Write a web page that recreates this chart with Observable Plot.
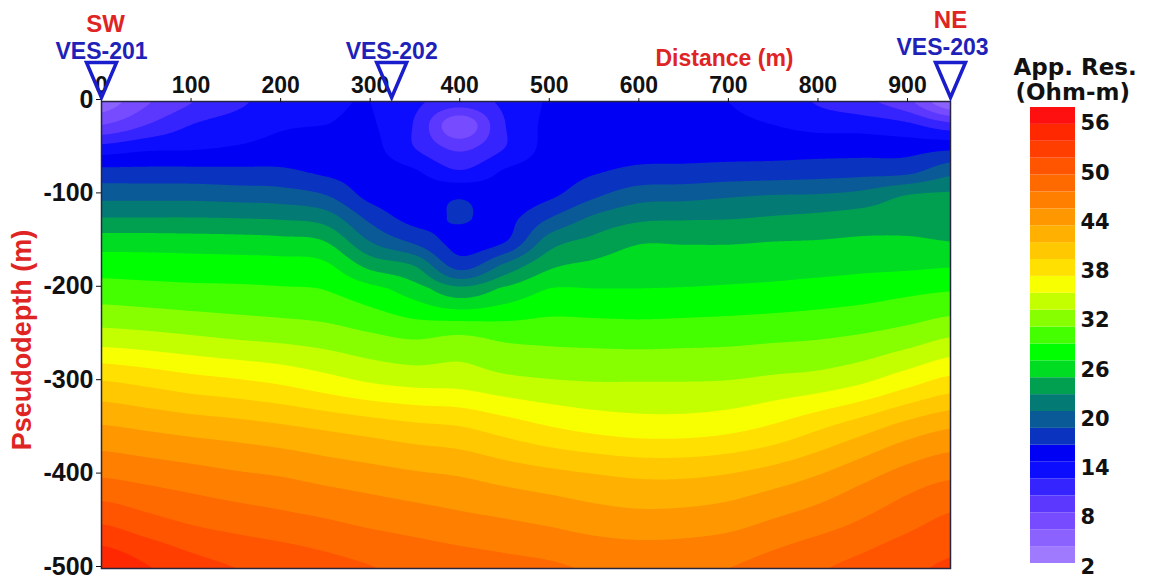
<!DOCTYPE html>
<html>
<head>
<meta charset="utf-8">
<script src="https://cdn.jsdelivr.net/npm/d3@7"></script>
<script src="https://cdn.jsdelivr.net/npm/@observablehq/plot@0.6"></script>
<style>
  html, body { margin: 0; padding: 0; background: #fff; }
  #wrap { position: relative; width: 1155px; height: 579px; overflow: hidden; }
  #main { position: absolute; left: 0; top: 0; }
  #legend { position: absolute; left: 1000px; top: 0; }
  #wrap svg { overflow: visible; }
  #wrap svg text { font-weight: 700; }
</style>
</head>
<body>
<div id="wrap"><div id="main"></div><div id="legend"></div></div>
<script>
// ---- grid nodes ----
const distances = [0, 50, 100, 150, 200, 250, 300, 350, 400, 450, 500, 550, 600, 650, 700, 750, 800, 850, 900, 950];
const depths = [0, 25, 50, 75, 100, 125, 150, 175, 200, 250, 300, 350, 400, 450, 500];

// ---- apparent resistivity (Ohm-m) profiles, one per distance, top -> bottom ----
const res000 = [4.8, 8.0, 12.8, 16.6, 19.3, 22.1, 25.0, 27.1, 28.9, 32.7, 38.1, 42.3, 45.8, 49.8, 53.6];
const res050 = [7.7, 10.0, 13.6, 16.6, 19.3, 22.1, 25.0, 27.0, 28.7, 32.4, 37.5, 41.8, 45.3, 48.7, 52.2];
const res100 = [9.9, 12.0, 13.8, 16.6, 19.3, 22.1, 24.9, 26.9, 28.5, 32.0, 36.8, 41.3, 44.8, 47.8, 50.8];
const res150 = [11.5, 13.0, 14.2, 16.5, 19.1, 22.0, 24.8, 26.8, 28.4, 31.6, 36.3, 40.9, 44.3, 47.2, 50.0];
const res200 = [13.0, 13.8, 14.6, 16.4, 18.9, 21.8, 24.6, 26.7, 28.2, 31.3, 35.7, 40.4, 43.9, 46.7, 49.4];
const res250 = [13.6, 14.0, 14.6, 15.6, 18.0, 21.1, 24.0, 26.3, 27.9, 30.9, 34.8, 39.8, 43.3, 46.2, 48.7];
const res300 = [14.0, 14.2, 14.6, 15.0, 15.4, 17.5, 20.0, 23.3, 26.6, 30.2, 33.9, 39.2, 42.8, 45.6, 48.1];
const res350 = [12.4, 11.8, 12.0, 14.2, 15.0, 15.4, 17.6, 21.8, 24.9, 29.6, 33.4, 38.6, 42.3, 45.1, 47.5];
const res400 = [11.0, 6.5, 9.6, 12.2, 15.7, 16.2, 15.3, 17.1, 22.5, 30.0, 33.3, 38.2, 41.9, 44.6, 47.0];
const res450 = [12.4, 11.9, 12.0, 14.2, 14.8, 15.4, 15.9, 20.3, 24.3, 29.4, 32.6, 37.2, 41.2, 44.2, 46.6];
const res500 = [14.2, 14.4, 14.6, 15.0, 15.6, 18.0, 21.0, 23.5, 26.0, 29.3, 32.2, 36.2, 40.6, 43.7, 46.3];
const res550 = [14.4, 14.6, 15.0, 15.8, 17.6, 20.4, 22.6, 24.4, 26.0, 29.2, 32.0, 35.5, 40.1, 43.1, 45.8];
const res600 = [14.4, 14.6, 15.2, 16.5, 19.1, 21.6, 23.8, 25.0, 26.0, 29.1, 32.0, 35.1, 39.7, 42.8, 45.5];
const res650 = [14.2, 14.6, 15.2, 16.6, 19.3, 21.8, 23.8, 25.0, 26.1, 29.2, 32.0, 35.1, 39.7, 42.9, 45.6];
const res700 = [14.0, 14.4, 15.2, 16.8, 19.7, 21.9, 23.8, 25.1, 26.3, 29.3, 32.1, 35.5, 40.1, 43.3, 46.0];
const res750 = [13.2, 14.0, 15.2, 16.9, 20.0, 22.2, 24.0, 25.2, 26.5, 29.5, 32.5, 36.4, 40.9, 44.2, 46.8];
const res800 = [11.8, 13.4, 15.2, 17.1, 20.1, 22.5, 24.1, 25.3, 26.8, 29.7, 32.9, 37.8, 42.0, 45.1, 47.8];
const res850 = [10.5, 13.2, 15.2, 17.3, 20.6, 22.9, 24.3, 25.5, 27.1, 30.1, 33.8, 39.3, 43.4, 46.2, 48.6];
const res900 = [8.5, 12.4, 15.2, 17.5, 22.0, 23.1, 24.3, 25.6, 27.5, 30.8, 35.3, 40.9, 44.8, 47.4, 49.6];
const res950 = [4.0, 10.6, 15.6, 19.4, 22.3, 23.1, 24.0, 25.8, 27.8, 31.8, 36.7, 42.0, 45.7, 48.5, 50.3];

// ---- stations and labels ----
const stationNames = ["VES-201", "VES-202", "VES-203"];
const stationDist = [0, 324, 948];
const directionNames = ["SW", "NE"];
const directionDist = [0, 948];
const xTicks = [0, 100, 200, 300, 400, 500, 600, 700, 800, 900];
const yTicks = [0, -100, -200, -300, -400, -500];
const xLabel = "Distance (m)";
const yLabel = "Pseudodepth (m)";
const legendTitle = ["App. Res.", "(Ohm-m)"];

// ---- colour bands ----
const bandStart = [2, 4, 6, 8, 10, 12, 14, 16, 18, 20, 22, 24, 26, 28, 30, 32, 34, 36, 38, 40, 42, 44, 46, 48, 50, 52, 54];
const bandColors = ["#9f7aff", "#8c62ff", "#774bff", "#5c38ff", "#3624ff", "#0c0cff", "#0000f4", "#0a34c0", "#0a5a98",
  "#047a74", "#00a050", "#00dc22", "#00ff00", "#44ff00", "#88ff00", "#c4ff00", "#f8ff00", "#ffe000", "#ffc800",
  "#ffb000", "#ff9800", "#ff8000", "#ff6a00", "#ff5400", "#ff3e00", "#ff2800", "#ff1010"];
const legendTicks = [2, 8, 14, 20, 26, 32, 38, 44, 50, 56];

// ---- build ----
const grid = [res000, res050, res100, res150, res200, res250, res300, res350, res400, res450,
  res500, res550, res600, res650, res700, res750, res800, res850, res900, res950];

function locate(arr, v) {
  const n = arr.length;
  if (v <= arr[0]) return [0, 0];
  if (v >= arr[n - 1]) return [n - 2, 1];
  let i = 0;
  while (arr[i + 1] < v) i++;
  return [i, (v - arr[i]) / (arr[i + 1] - arr[i])];
}
function cr(p0, p1, p2, p3, t) {
  return 0.5 * (2 * p1 + (-p0 + p2) * t + (2 * p0 - 5 * p1 + 4 * p2 - p3) * t * t + (-p0 + 3 * p1 - 3 * p2 + p3) * t * t * t);
}
function g(i, j) {
  i = Math.max(0, Math.min(distances.length - 1, i));
  j = Math.max(0, Math.min(depths.length - 1, j));
  return grid[i][j];
}
function field(x, y) {
  const [ix, tx] = locate(distances, x);
  const [iz, tz] = locate(depths, -y);
  const rows = [-1, 0, 1, 2].map(k => cr(g(ix - 1, iz + k), g(ix, iz + k), g(ix + 1, iz + k), g(ix + 2, iz + k), tx));
  return cr(rows[0], rows[1], rows[2], rows[3], tz);
}

const stations = stationNames.map((name, i) => ({name, dist: stationDist[i], elev: 0}));
const directions = directionNames.map((name, i) => ({name, dist: directionDist[i], elev: 0}));

const colorScale = {type: "threshold", domain: bandStart.slice(1), range: bandColors};
const RED = "#df2424";
const BLUE = "#1f22b8";
const TRI = "#1a1dcc";
const SANS = "'Liberation Sans', Arial, Helvetica, sans-serif";

const invTri = {
  draw(ctx) {
    ctx.moveTo(-15, -39);
    ctx.lineTo(15, -39);
    ctx.lineTo(0, -4);
    ctx.closePath();
  }
};

const main = Plot.plot({
  width: 1000, height: 579,
  marginTop: 101, marginLeft: 101, marginRight: 50, marginBottom: 11,
  x: {domain: [0, 948]},
  y: {domain: [-500, 0]},
  color: colorScale,
  style: {fontFamily: SANS, color: "#111", background: "transparent"},
  marks: [
    Plot.contour({x1: 0, x2: 948, y1: -500, y2: 0, fill: field, thresholds: bandStart, stroke: "none", pixelSize: 1}),
    Plot.frame({stroke: "#262640", strokeWidth: 1.5}),
    Plot.axisX({anchor: "top", ticks: xTicks, tickSize: 4, tickPadding: 5, fontSize: 23, label: null, tickFormat: d => String(d), fontWeight: "bold"}),
    Plot.axisY({anchor: "left", ticks: yTicks, tickSize: 5, tickPadding: 3, fontSize: 25, dy: -2, label: null, tickFormat: d => String(d), fontWeight: "bold"}),
    Plot.dot(stations, {x: "dist", y: "elev", symbol: invTri, r: 5, stroke: TRI, strokeWidth: 3.5, fill: "none", strokeLinejoin: "miter"}),
    Plot.text(stations.filter(s => s.name !== "VES-203"), {x: "dist", y: "elev", text: "name", fill: BLUE, fontSize: 23, fontWeight: "bold", lineAnchor: "bottom", dy: -43}),
    Plot.text(stations.filter(s => s.name === "VES-203"), {x: "dist", y: "elev", text: "name", fill: BLUE, fontSize: 23, fontWeight: "bold", lineAnchor: "bottom", dy: -47, dx: -8}),
    Plot.text(directions.filter(s => s.name === "SW"), {x: "dist", y: "elev", text: "name", fill: RED, fontSize: 24, fontWeight: "bold", lineAnchor: "bottom", dy: -70, dx: 4}),
    Plot.text(directions.filter(s => s.name === "NE"), {x: "dist", y: "elev", text: "name", fill: RED, fontSize: 24, fontWeight: "bold", lineAnchor: "bottom", dy: -74}),
    Plot.text([xLabel], {frameAnchor: "top-right", text: d => d, textAnchor: "end", lineAnchor: "bottom", dx: -157, dy: -36, fill: RED, fontSize: 23, fontWeight: "bold"}),
    Plot.text([yLabel], {frameAnchor: "left", text: d => d, rotate: -90, textAnchor: "middle", lineAnchor: "middle", dx: -79, dy: 5, fill: RED, fontSize: 27, fontWeight: "bold"})
  ]
});
document.getElementById("main").append(main);

const legend = Plot.plot({
  width: 155, height: 579,
  marginTop: 107, marginBottom: 16, marginLeft: 30, marginRight: 80,
  x: {domain: [0, 1], axis: null},
  y: {domain: [2, 56], axis: null},
  color: colorScale,
  style: {fontFamily: "'DejaVu Sans', Verdana, sans-serif", color: "#111", background: "transparent"},
  marks: [
    Plot.rect(bandStart, {x1: () => 0, x2: () => 1, y1: d => d, y2: d => d + 2, fill: d => d}),
    Plot.text(legendTicks, {x: () => 1, y: d => 1.6 + (d - 2) * 0.972, text: d => String(d), textAnchor: "start", dx: 5, fontSize: 21, fontWeight: "bold", fill: "#111"}),
    Plot.text([legendTitle[0]], {frameAnchor: "top-left", text: d => d, textAnchor: "start", lineAnchor: "bottom", dx: -17, dy: -33, fontSize: 23, fontWeight: "bold", fill: "#111"}),
    Plot.text([legendTitle[1]], {frameAnchor: "top-left", text: d => d, textAnchor: "start", lineAnchor: "bottom", dx: -15, dy: -8, fontSize: 23, fontWeight: "bold", fill: "#111"})
  ]
});
document.getElementById("legend").append(legend);
</script>
</body>
</html>
